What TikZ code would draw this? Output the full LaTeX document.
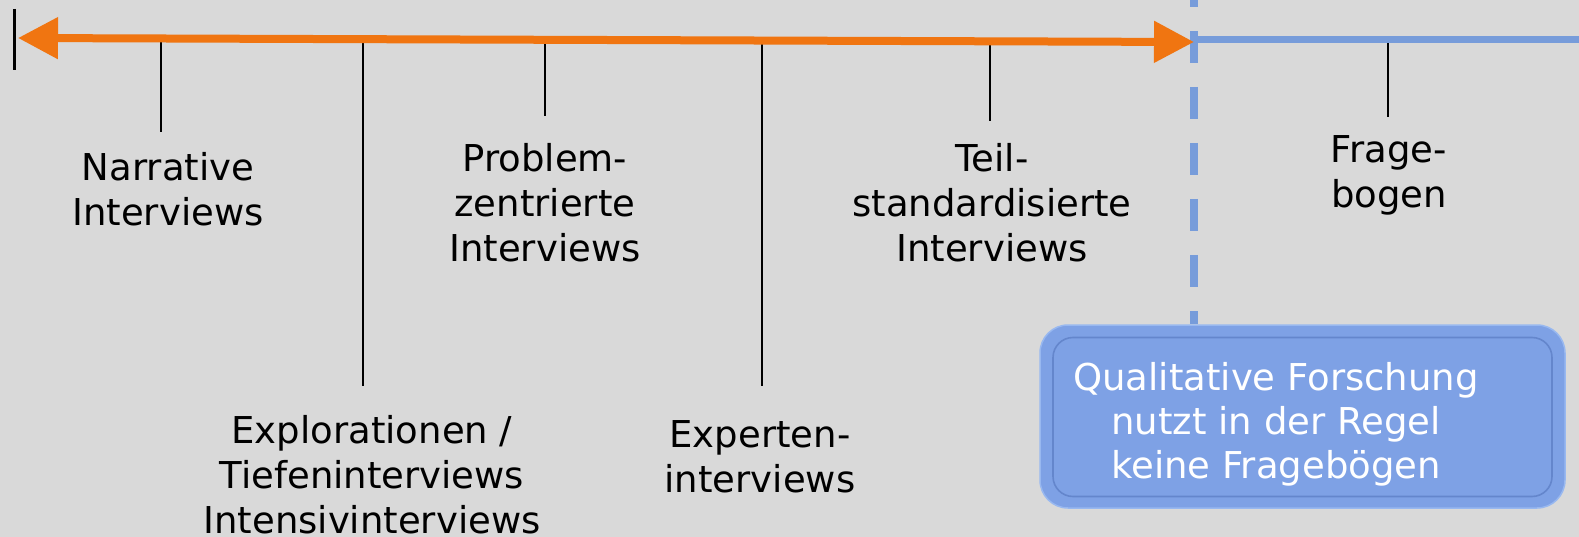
\documentclass[tikz,border=0pt]{standalone}
\usepackage{fontspec}
\setmainfont{DejaVu Sans}
\usetikzlibrary{arrows.meta}
\definecolor{bg}{RGB}{217,217,217}
\definecolor{arroworange}{RGB}{240,117,17}
\definecolor{lineblue}{RGB}{119,156,218}
\definecolor{boxblue}{RGB}{126,161,229}
\definecolor{boxedge}{RGB}{100,134,204}
\definecolor{boxlight}{RGB}{152,184,240}

\begin{document}
\begin{tikzpicture}[x=1pt,y=-1pt,
  lbl/.style={font=\fontsize{37}{45}\selectfont, align=center, anchor=base, inner sep=0pt, text=black},
  boxlbl/.style={lbl, text=white, font=\fontsize{37}{44}\selectfont},
  tick/.style={draw=black, line width=2.5pt},
  endtick/.style={draw=black, line width=3pt},
  timeline/.style={draw=arroworange, line width=8pt,
    {Triangle[length=40pt,width=40pt]}-{Triangle[length=40pt,width=40pt]}},
  quantline/.style={draw=lineblue, line width=7pt},
  border/.style={draw=lineblue, line width=8pt, dash pattern=on 32pt off 24pt},
  infobox/.style={draw=boxlight, line width=1.5pt, fill=boxblue, rounded corners=28pt,
    minimum width=525pt, minimum height=183pt, inner sep=0pt},
  innerbevel/.style={draw=boxedge, line width=1.6pt, rounded corners=20pt,
    minimum width=499pt, minimum height=159pt, inner sep=0pt}
]
% canvas
\fill[bg] (0,0) rectangle (1579,537);
\useasboundingbox (0,0) rectangle (1579,537);

% end marker at the left
\coordinate (e0) at (14,9);
\coordinate (e1) at (14,70);
\draw[endtick] (e0) -- (e1);

% ticks hanging from the scale
\coordinate (t1a) at (161,39);  \coordinate (t1b) at (161,132);
\coordinate (t2a) at (363,39);  \coordinate (t2b) at (363,386);
\coordinate (t3a) at (545,40);  \coordinate (t3b) at (545,116);
\coordinate (t4a) at (762,40);  \coordinate (t4b) at (762,386);
\coordinate (t5a) at (990,41);  \coordinate (t5b) at (990,121);
\coordinate (t6a) at (1388,40); \coordinate (t6b) at (1388,117);
\foreach \t in {1,...,6} \draw[tick] (t\t a) -- (t\t b);

% dashed boundary between qualitative and standardised methods
\coordinate (dtop) at (1194,-25);
\node[infobox] (box) at (1302.5,416.5) {};
\node[innerbevel] (bevel) at (1302.5,417) {};
\draw[border] (dtop) -- (dtop |- box.north);

% quantitative part of the scale
\coordinate (q0) at (1194,39.5);
\coordinate (q1) at (1579,39.5);
\draw[quantline] (q0) -- (q1);

% qualitative continuum
\coordinate (L) at (18,38);
\coordinate (R) at (1194,42);
\draw[timeline] (L) -- (R);

% labels (anchored at the baseline of their last line)
\node[lbl] (narr) at (168,226) {Narrative\\Interviews};
\node[lbl] (expl) at (372,533) {Explorationen /\\Tiefeninterviews\\Intensivinterviews};
\node[lbl] (prob) at (545,262) {Problem-\\zentrierte\\Interviews};
\node[lbl] (expt) at (760,492) {Experten-\\interviews};
\node[lbl] (teil) at (992,262) {Teil-\\standardisierte\\Interviews};
\node[lbl] (frag) at (1389,208) {Frage-\\bogen};

\node[boxlbl] (boxtext) at (1276,478) {Qualitative Forschung\\nutzt in der Regel\\keine Fragebögen};
\end{tikzpicture}
\end{document}
